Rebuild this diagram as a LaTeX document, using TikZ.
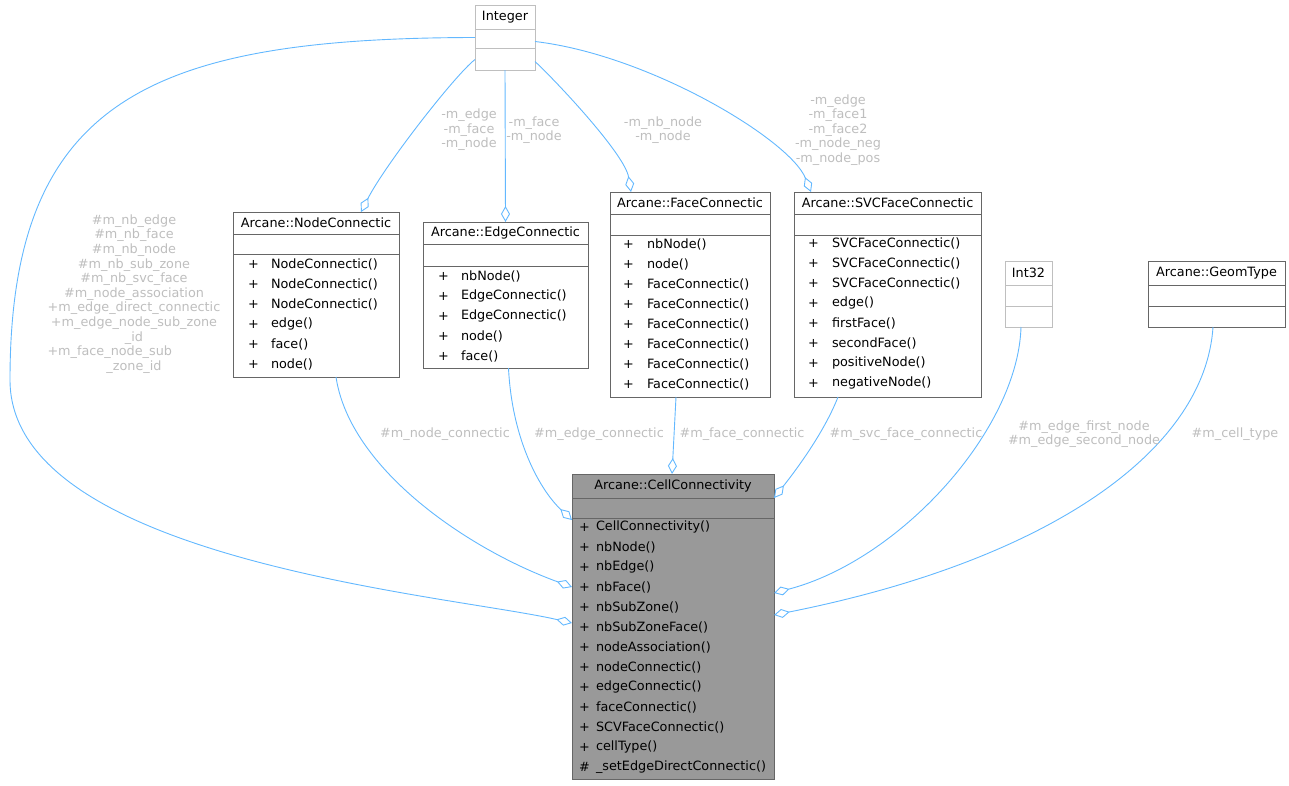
\documentclass[tikz,border=0pt]{standalone}
\usepackage{fontspec}
\setmainfont{DejaVu Sans}
\usetikzlibrary{arrows.meta, calc}

\definecolor{edgeblue}{HTML}{63B8FF}
\definecolor{lblgray}{HTML}{BEBEBE}
\definecolor{boxgray}{HTML}{666666}
\definecolor{extgray}{HTML}{BFBFBF}
\definecolor{cellfill}{HTML}{999999}

\begin{document}
\begin{tikzpicture}[x=1pt, y=-1pt,
    every node/.style={font=\fontsize{12.8}{14.6}\selectfont, inner sep=0pt, outer sep=0pt},
    cls/.style={rectangle, draw=boxgray, line width=1pt, anchor=north west, fill=white},
    ext/.style={cls, draw=extgray},
    mainc/.style={cls, fill=cellfill},
    sep/.style={draw=boxgray, line width=1pt},
    extsep/.style={sep, draw=extgray},
    mem/.style={anchor=west},
    lbl/.style={text=lblgray, align=center},
    agg/.style={draw=edgeblue, line width=0.9pt, -{Diamond[open, length=16pt, width=9pt]}}]

  \useasboundingbox (0,0) rectangle (1289,785);

  % external types
  \node[ext, minimum width=60, minimum height=65] (integer) at (475,5) {};
  \draw[extsep] (integer.west |- 0,29) -- (integer.east |- 0,29);
  \draw[extsep] (integer.west |- 0,48) -- (integer.east |- 0,48);
  \node (integer-t) at (505,17) {Integer};

  \node[ext, minimum width=47, minimum height=66] (int32) at (1005,261) {};
  \draw[extsep] (int32.west |- 0,285) -- (int32.east |- 0,285);
  \draw[extsep] (int32.west |- 0,306) -- (int32.east |- 0,306);
  \node (int32-t) at (1028.5,273) {Int32};

  \node[cls, minimum width=137, minimum height=66] (geomt) at (1148,261) {};
  \draw[sep] (geomt.west |- 0,285) -- (geomt.east |- 0,285);
  \draw[sep] (geomt.west |- 0,306) -- (geomt.east |- 0,306);
  \node (geomt-t) at (1216.5,273) {Arcane::GeomType};

  % connectivity classes
  \node[cls, minimum width=166, minimum height=165] (nodec) at (233,212) {};
  \draw[sep] (nodec.west |- 0,234) -- (nodec.east |- 0,234);
  \draw[sep] (nodec.west |- 0,254) -- (nodec.east |- 0,254);
  \node (nodec-t) at (316,223) {Arcane::NodeConnectic};
  \foreach \m [count=\i from 0] in {NodeConnectic(), NodeConnectic(), NodeConnectic(), edge(), face(), node()} {
    \node[mem] (nodec-p\i) at (248,{264+20*\i}) {+};
    \node[mem] (nodec-m\i) at (271,{264+20*\i}) {\m};
  }

  \node[cls, minimum width=165, minimum height=146] (edgec) at (423,222) {};
  \draw[sep] (edgec.west |- 0,244) -- (edgec.east |- 0,244);
  \draw[sep] (edgec.west |- 0,266) -- (edgec.east |- 0,266);
  \node (edgec-t) at (505.5,233) {Arcane::EdgeConnectic};
  \foreach \m [count=\i from 0] in {nbNode(), EdgeConnectic(), EdgeConnectic(), node(), face()} {
    \node[mem] (edgec-p\i) at (438,{276+20*\i}) {+};
    \node[mem] (edgec-m\i) at (461,{276+20*\i}) {\m};
  }

  \node[cls, minimum width=160, minimum height=205] (facec) at (610,192) {};
  \draw[sep] (facec.west |- 0,214) -- (facec.east |- 0,214);
  \draw[sep] (facec.west |- 0,235) -- (facec.east |- 0,235);
  \node (facec-t) at (690,203) {Arcane::FaceConnectic};
  \foreach \m [count=\i from 0] in {nbNode(), node(), FaceConnectic(), FaceConnectic(), FaceConnectic(), FaceConnectic(), FaceConnectic(), FaceConnectic()} {
    \node[mem] (facec-p\i) at (623,{244+20*\i}) {+};
    \node[mem] (facec-m\i) at (647,{244+20*\i}) {\m};
  }

  \node[cls, minimum width=187, minimum height=205] (svcc) at (794,192) {};
  \draw[sep] (svcc.west |- 0,214) -- (svcc.east |- 0,214);
  \draw[sep] (svcc.west |- 0,235) -- (svcc.east |- 0,235);
  \node (svcc-t) at (887.5,203) {Arcane::SVCFaceConnectic};
  \foreach \m [count=\i from 0] in {SVCFaceConnectic(), SVCFaceConnectic(), SVCFaceConnectic(), edge(), firstFace(), secondFace(), positiveNode(), negativeNode()} {
    \node[mem] (svcc-p\i) at (808,{243+20*\i}) {+};
    \node[mem] (svcc-m\i) at (832,{243+20*\i}) {\m};
  }

  % the main class
  \node[mainc, minimum width=202, minimum height=305] (cell) at (572,474) {};
  \draw[sep] (cell.west |- 0,498) -- (cell.east |- 0,498);
  \draw[sep] (cell.west |- 0,518) -- (cell.east |- 0,518);
  \node (cell-t) at (673,486) {Arcane::CellConnectivity};
  \foreach \m [count=\i from 0] in {CellConnectivity(), nbNode(), nbEdge(), nbFace(), nbSubZone(), nbSubZoneFace(), nodeAssociation(), nodeConnectic(), edgeConnectic(), faceConnectic(), SCVFaceConnectic(), cellType()} {
    \node[mem] (cell-p\i) at (579,{527+20*\i}) {+};
    \node[mem] (cell-m\i) at (596,{527+20*\i}) {\m};
  }
  \node[mem] (cell-p12) at (579,767) {\#};
  \node[mem] (cell-m12) at (596,767) {\_setEdgeDirectConnectic()};

  % members typed Integer
  \draw[agg] ([yshift=-22pt]integer.west) .. controls (455,75) and (385,165) .. ([xshift=45pt]nodec.north);
  \draw[agg] (integer.south) -- (edgec.north);
  \draw[agg] ([yshift=-24pt]integer.east) .. controls (560,85) and (625,155) .. ([xshift=-59pt]facec.north);
  \draw[agg] ([yshift=-4pt]integer.east) .. controls (650,55) and (790,140) .. ([xshift=-76.5pt]svcc.north);
  \draw[agg] (integer.west) .. controls (150,38) and (10,100) .. (10,380)
    .. controls (10,560) and (450,595) .. ([yshift=3.5pt]cell.west);

  \node[lbl] (lbl-nodec) at (469,130) {-m\_edge\\-m\_face\\-m\_node};
  \node[lbl] (lbl-edgec) at (534,130) {-m\_face\\-m\_node};
  \node[lbl] (lbl-facec) at (663,130) {-m\_nb\_node\\-m\_node};
  \node[lbl] (lbl-svcc) at (838,130) {-m\_edge\\-m\_face1\\-m\_face2\\-m\_node\_neg\\-m\_node\_pos};
  \node[lbl] (lbl-int) at (134,294) {\#m\_nb\_edge\\\#m\_nb\_face\\\#m\_nb\_node\\\#m\_nb\_sub\_zone\\\#m\_nb\_svc\_face\\\#m\_node\_association\\+m\_edge\_direct\_connectic\\+m\_edge\_node\_sub\_zone\\\_id\\\makebox[173pt][l]{+m\_face\_node\_sub}\\\_zone\_id};

  % members of CellConnectivity
  \draw[agg] ([xshift=20pt]nodec.south) .. controls (350,470) and (470,550) .. ([yshift=39.5pt]cell.west);
  \draw[agg] ([xshift=3pt]edgec.south) .. controls (512,440) and (540,490) .. ([yshift=106.5pt]cell.west);
  \draw[agg] ([xshift=-14pt]facec.south) -- ([xshift=-1pt]cell.north);
  \draw[agg] ([xshift=-49.5pt]svcc.south) .. controls (825,430) and (800,465) .. ([yshift=128.5pt]cell.east);
  \draw[agg] ([xshift=-7.5pt]int32.south) .. controls (1018,430) and (900,560) .. ([yshift=33.5pt]cell.east);
  \draw[agg] ([xshift=-3.5pt]geomt.south) .. controls (1205,450) and (1050,560) .. ([yshift=11.5pt]cell.east);

  \node[lbl] (lbl-nodecon) at (445,434) {\#m\_node\_connectic};
  \node[lbl] (lbl-edgecon) at (599,434) {\#m\_edge\_connectic};
  \node[lbl] (lbl-facecon) at (742,434) {\#m\_face\_connectic};
  \node[lbl] (lbl-svccon) at (906,434) {\#m\_svc\_face\_connectic};
  \node[lbl] (lbl-int32) at (1084,434) {\#m\_edge\_first\_node\\\#m\_edge\_second\_node};
  \node[lbl] (lbl-geomt) at (1235,434) {\#m\_cell\_type};
\end{tikzpicture}
\end{document}
